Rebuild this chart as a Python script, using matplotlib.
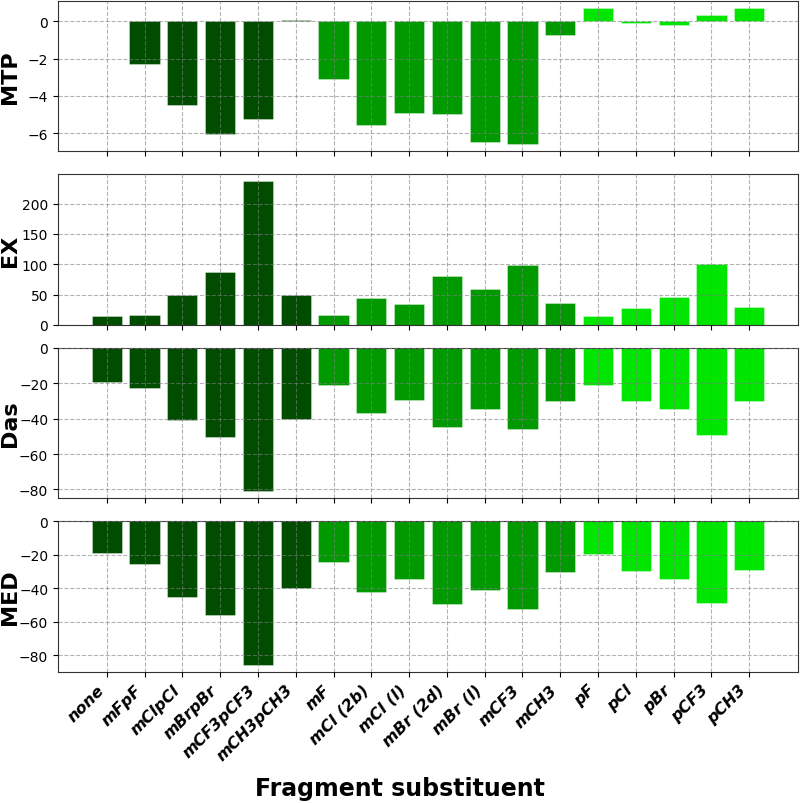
import matplotlib
matplotlib.use("Agg")
import matplotlib.pyplot as plt
import numpy as np

categories = ["none", "mFpF", "mClpCl", "mBrpBr", "mCF3pCF3", "mCH3pCH3",
              "mF", "mCl (2b)", "mCl (l)", "mBr (2d)", "mBr (l)", "mCF3", "mCH3",
              "pF", "pCl", "pBr", "pCF3", "pCH3"]
groups = ["dark"] * 6 + ["mid"] * 7 + ["bright"] * 5
group_colors = {"dark": "#004d00", "mid": "#009900", "bright": "#00e600"}

mtp = [np.nan, -2.29, -4.48, -6.05, -5.26, 0.08, -3.09, -5.57, -4.89, -4.96,
       -6.44, -6.58, -0.76, 0.71, -0.11, -0.19, 0.30, 0.71]
ex = [14.8, 16.4, 49.9, 86.6, 237.0, 48.8, 16.4, 44.9, 35.1, 81.1,
      59.7, 99.7, 35.6, 14.8, 28.5, 46.6, 100.3, 30.1]
das = [-19.2, -22.7, -40.6, -50.1, -80.8, -40.2, -21.2, -36.6, -29.5, -44.5,
       -34.7, -45.8, -29.7, -20.7, -29.7, -34.4, -49.0, -30.0]
med = [-19.0, -25.3, -45.5, -55.9, -85.6, -40.1, -24.3, -42.1, -34.7, -49.5,
       -40.9, -52.1, -30.3, -19.8, -29.7, -34.3, -48.7, -29.3]

series = [("MTP", mtp), ("EX", ex), ("Das", das), ("MED", med)]

fig = plt.figure(figsize=(8.0, 8.04), dpi=100)
left, right = 0.0725, 0.9975
tops = [1 - 2 / 804, 1 - 175 / 804, 1 - 349 / 804, 1 - 522 / 804]
bottoms = [1 - 152 / 804, 1 - 326 / 804, 1 - 499 / 804, 1 - 673 / 804]

colors = [group_colors[g] for g in groups]
x = np.arange(len(categories))
axes = []
for i, (name, vals) in enumerate(series):
    ax = fig.add_axes([left, bottoms[i], right - left, tops[i] - bottoms[i]],
                      sharex=axes[0] if axes else None)
    ax.bar(x, vals, width=0.8, color=colors, edgecolor=(1, 1, 1, 0.4), linewidth=0.6)
    ax.set_axisbelow(False)
    ax.grid(True, linestyle="--", color="gray", alpha=0.6, linewidth=0.8)
    ax.set_ylabel(name, fontsize=16, fontweight="bold")
    ax.tick_params(axis="y", labelsize=10)
    for s in ax.spines.values():
        s.set_color("#333333")
    if i < 3:
        ax.tick_params(axis="x", labelbottom=False)
    axes.append(ax)

axes[-1].set_xticks(x)
axes[-1].set_xticklabels(categories, rotation=45, ha="right", fontsize=11.5,
                         fontweight="bold", fontstyle="italic")
for ax in axes:
    ax.yaxis.set_label_coords(-0.052, 0.5)

fig.text(0.5, 1 - 789 / 804, "Fragment substituent", fontsize=17,
         fontweight="bold", ha="center", va="center")

fig.savefig("out.png", dpi=100)
